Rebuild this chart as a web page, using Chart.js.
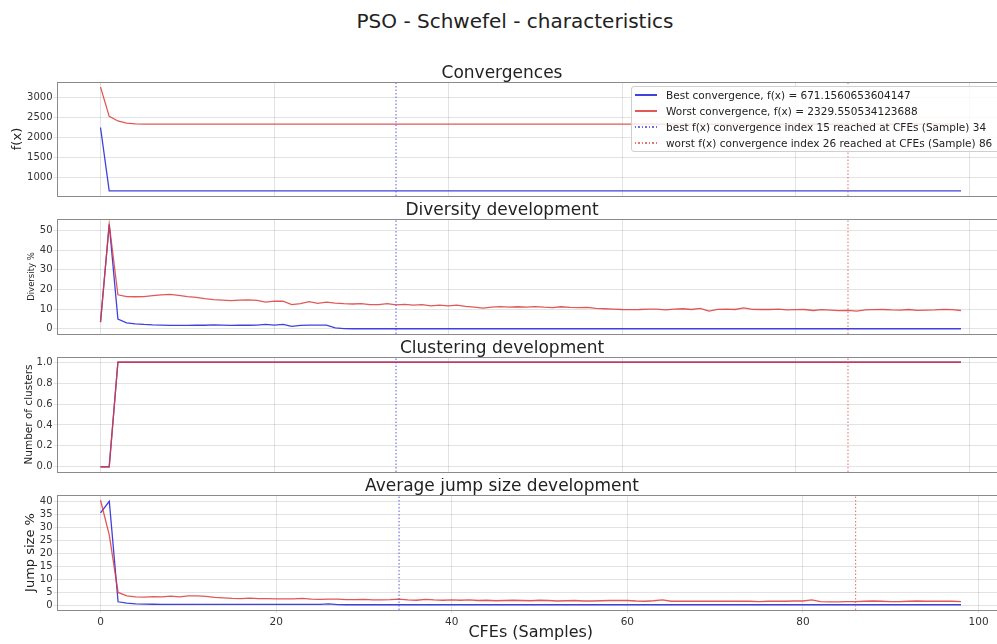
<!DOCTYPE html>
<html>
<head>
<meta charset="utf-8">
<title>PSO - Schwefel - characteristics</title>
<script src="https://cdn.jsdelivr.net/npm/chart.js@4.4.1/dist/chart.umd.min.js"></script>
<style>
  html, body { margin: 0; padding: 0; background: #fff; }
  body { position: relative; width: 997px; height: 644px; overflow: hidden; font-family: 'DejaVu Sans', sans-serif; }
  canvas { position: absolute; left: 0; }
  #suptitle { position: absolute; left: 0; top: 8px; width: 1030px; text-align: center; font-size: 20px; line-height: 26px; color: #222; }
  #legend { position: absolute; left: 631px; top: 86px; width: 380px; height: 66px; box-sizing: border-box;
            border: 1px solid #cfcfcf; border-radius: 3px; background: rgba(255,255,255,0.8); font-size: 10.5px; color: #222; }
  #legend .row { display: flex; align-items: center; height: 16px; white-space: nowrap; }
  #legend .swatch { flex: none; width: 22px; height: 1.5px; margin: 0 9px 0 3px; }
</style>
</head>
<body>
<div id="suptitle">PSO - Schwefel - characteristics</div>
<canvas id="conv" width="1010" height="139" style="top:65px"></canvas>
<canvas id="div" width="1010" height="140" style="top:202px"></canvas>
<canvas id="clus" width="1010" height="140" style="top:340px"></canvas>
<canvas id="jump" width="1010" height="168" style="top:478px"></canvas>
<div id="legend"></div>
<script>
// final f(x) values and the samples where each run converged
const BEST_FX = 671.1560653604147;
const WORST_FX = 2329.550534123688;
const B = BEST_FX, W = WORST_FX;
const bestIndex = 15, bestSample = 34;
const worstIndex = 26, worstSample = 86;

// x positions (CFEs samples)
const samples = Array.from({ length: 100 }, (_, i) => i);
const jumpSamples = Array.from({ length: 99 }, (_, i) => i);
const xTickValues = [0, 20, 40, 60, 80, 100];

const bestConvergence = [
  2246, B, B, B, B, B, B, B, B, B,
  B, B, B, B, B, B, B, B, B, B,
  B, B, B, B, B, B, B, B, B, B,
  B, B, B, B, B, B, B, B, B, B,
  B, B, B, B, B, B, B, B, B, B,
  B, B, B, B, B, B, B, B, B, B,
  B, B, B, B, B, B, B, B, B, B,
  B, B, B, B, B, B, B, B, B, B,
  B, B, B, B, B, B, B, B, B, B,
  B, B, B, B, B, B, B, B, B, B
];
const worstConvergence = [
  3250, 2524, 2409, 2355, 2335, W, W, W, W, W,
  W, W, W, W, W, W, W, W, W, W,
  W, W, W, W, W, W, W, W, W, W,
  W, W, W, W, W, W, W, W, W, W,
  W, W, W, W, W, W, W, W, W, W,
  W, W, W, W, W, W, W, W, W, W,
  W, W, W, W, W, W, W, W, W, W,
  W, W, W, W, W, W, W, W, W, W,
  W, W, W, W, W, W, W, W, W, W,
  W, W, W, W, W, W, W, W, W, W
];

const bestDiversity = [
  3.4, 53.2, 4.9, 3.0, 2.5, 2.2, 2.0, 1.9, 1.7, 1.7,
  1.7, 1.8, 1.8, 2.0, 1.9, 1.7, 1.8, 1.8, 1.9, 2.2,
  1.9, 2.2, 1.2, 1.7, 1.9, 1.9, 1.9, 0.5, 0.1, 0.0,
  0.0, 0.0, 0.0, 0.0, 0.0, 0.0, 0.0, 0.0, 0.0, 0.0,
  0.0, 0.0, 0.0, 0.0, 0.0, 0.0, 0.0, 0.0, 0.0, 0.0,
  0.0, 0.0, 0.0, 0.0, 0.0, 0.0, 0.0, 0.0, 0.0, 0.0,
  0.0, 0.0, 0.0, 0.0, 0.0, 0.0, 0.0, 0.0, 0.0, 0.0,
  0.0, 0.0, 0.0, 0.0, 0.0, 0.0, 0.0, 0.0, 0.0, 0.0,
  0.0, 0.0, 0.0, 0.0, 0.0, 0.0, 0.0, 0.0, 0.0, 0.0,
  0.0, 0.0, 0.0, 0.0, 0.0, 0.0, 0.0, 0.0, 0.0, 0.0
];
const worstDiversity = [
  3.4, 53.2, 17.3, 16.4, 16.3, 16.4, 16.9, 17.3, 17.5, 17.0,
  16.4, 16.0, 15.3, 14.8, 14.6, 14.3, 14.6, 14.7, 14.5, 13.6,
  14.1, 14.0, 12.3, 12.8, 13.8, 12.9, 13.6, 13.1, 12.8, 12.6,
  12.8, 12.3, 12.3, 12.8, 12.2, 12.4, 12.0, 12.3, 11.7, 12.0,
  11.7, 12.0, 11.4, 11.0, 10.5, 11.0, 11.3, 11.0, 11.2, 11.0,
  11.3, 11.0, 10.8, 11.2, 10.9, 10.8, 10.9, 10.4, 10.2, 10.0,
  9.8, 9.7, 9.8, 10.0, 10.0, 9.6, 10.0, 10.2, 9.8, 10.4,
  9.0, 9.9, 10.0, 9.8, 10.6, 9.9, 9.8, 9.8, 10.0, 9.6,
  9.7, 9.8, 9.3, 9.7, 9.5, 9.2, 9.4, 9.0, 9.6, 9.7,
  9.8, 9.6, 9.5, 9.8, 9.4, 9.5, 9.6, 9.9, 9.7, 9.3
];

const bestClusters = [
  0, 0, 1, 1, 1, 1, 1, 1, 1, 1,
  1, 1, 1, 1, 1, 1, 1, 1, 1, 1,
  1, 1, 1, 1, 1, 1, 1, 1, 1, 1,
  1, 1, 1, 1, 1, 1, 1, 1, 1, 1,
  1, 1, 1, 1, 1, 1, 1, 1, 1, 1,
  1, 1, 1, 1, 1, 1, 1, 1, 1, 1,
  1, 1, 1, 1, 1, 1, 1, 1, 1, 1,
  1, 1, 1, 1, 1, 1, 1, 1, 1, 1,
  1, 1, 1, 1, 1, 1, 1, 1, 1, 1,
  1, 1, 1, 1, 1, 1, 1, 1, 1, 1
];
const worstClusters = [
  0, 0, 1, 1, 1, 1, 1, 1, 1, 1,
  1, 1, 1, 1, 1, 1, 1, 1, 1, 1,
  1, 1, 1, 1, 1, 1, 1, 1, 1, 1,
  1, 1, 1, 1, 1, 1, 1, 1, 1, 1,
  1, 1, 1, 1, 1, 1, 1, 1, 1, 1,
  1, 1, 1, 1, 1, 1, 1, 1, 1, 1,
  1, 1, 1, 1, 1, 1, 1, 1, 1, 1,
  1, 1, 1, 1, 1, 1, 1, 1, 1, 1,
  1, 1, 1, 1, 1, 1, 1, 1, 1, 1,
  1, 1, 1, 1, 1, 1, 1, 1, 1, 1
];

const bestJump = [
  35.5, 40.0, 1.3, 0.8, 0.5, 0.4, 0.35, 0.3, 0.3, 0.3,
  0.3, 0.3, 0.3, 0.3, 0.3, 0.3, 0.3, 0.3, 0.3, 0.3,
  0.3, 0.3, 0.3, 0.3, 0.3, 0.3, 0.5, 0.2, 0.15, 0.15,
  0.15, 0.15, 0.15, 0.15, 0.15, 0.15, 0.15, 0.15, 0.15, 0.15,
  0.15, 0.15, 0.15, 0.15, 0.15, 0.15, 0.15, 0.15, 0.15, 0.15,
  0.15, 0.15, 0.15, 0.15, 0.15, 0.15, 0.15, 0.15, 0.15, 0.15,
  0.15, 0.15, 0.15, 0.15, 0.15, 0.15, 0.15, 0.15, 0.15, 0.15,
  0.15, 0.15, 0.15, 0.15, 0.15, 0.15, 0.15, 0.15, 0.15, 0.15,
  0.15, 0.15, 0.15, 0.15, 0.15, 0.15, 0.15, 0.15, 0.15, 0.15,
  0.15, 0.15, 0.15, 0.15, 0.15, 0.15, 0.15, 0.15, 0.15
];
const worstJump = [
  40.4, 27.0, 4.9, 3.6, 3.2, 3.1, 3.3, 3.2, 3.5, 3.2,
  3.6, 3.6, 3.4, 3.0, 2.8, 2.6, 2.5, 2.7, 2.5, 2.5,
  2.4, 2.4, 2.4, 2.6, 2.3, 2.2, 2.3, 2.3, 2.1, 2.1,
  2.2, 2.0, 2.0, 2.1, 2.3, 2.0, 1.9, 2.2, 2.0, 1.9,
  2.0, 1.9, 2.0, 1.8, 1.9, 1.7, 1.8, 1.9, 1.8, 1.7,
  1.9, 1.8, 1.6, 1.7, 1.8, 1.6, 1.6, 1.7, 1.8, 1.8,
  1.8, 1.6, 1.5, 1.7, 2.0, 1.5, 1.5, 1.5, 1.5, 1.5,
  1.5, 1.5, 1.5, 1.5, 1.5, 1.4, 1.5, 1.5, 1.5, 1.6,
  1.6, 2.0, 1.4, 1.3, 1.3, 1.4, 1.4, 1.5, 1.6, 1.5,
  1.4, 1.4, 1.5, 1.6, 1.5, 1.5, 1.5, 1.5, 1.4
];

const BLUE = 'rgb(64, 64, 222)';
const RED = 'rgba(222, 58, 58, 0.85)';
const BLUE_DOT = 'rgba(80, 80, 228, 0.85)';
const RED_DOT = 'rgba(228, 80, 80, 0.8)';
const GRID = 'rgba(0, 0, 0, 0.11)';

Chart.defaults.font.family = "'DejaVu Sans', sans-serif";
Chart.defaults.color = '#333';

// matplotlib-style limits: 5% margin on each side of the data
function margins(lo, hi) {
  const m = (hi - lo) * 0.05;
  return [lo - m, hi + m];
}

function points(xs, ys) {
  return ys.map((v, i) => ({ x: xs[i], y: v }));
}

// box around the plotting area
const frame = {
  id: 'frame',
  afterDatasetsDraw(chart) {
    const { ctx, chartArea: a } = chart;
    const l = Math.floor(a.left) + 0.5, t = Math.floor(a.top) + 0.5;
    const r = Math.floor(a.right) + 0.5, b = Math.floor(a.bottom) + 0.5;
    ctx.save();
    ctx.strokeStyle = '#8a8a8a';
    ctx.lineWidth = 1;
    ctx.strokeRect(l, t, r - l, b - t);
    ctx.restore();
  }
};

function panel(id, p) {
  const xs = p.xs;
  const [xMin, xMax] = margins(xs[0], xs[xs.length - 1]);
  const [yMin, yMax] = p.yRange;
  const datasets = [
    { label: p.bestLabel, data: points(xs, p.best), borderColor: BLUE, order: 2 },
    { label: p.worstLabel, data: points(xs, p.worst), borderColor: RED, order: 1 },
    { label: `best f(x) convergence index ${bestIndex} reached at CFEs (Sample) ${bestSample}`,
      data: [{ x: bestSample, y: yMin }, { x: bestSample, y: yMax }],
      borderColor: BLUE_DOT, borderDash: [1.5, 2], borderWidth: 1.1, order: 0 },
    { label: `worst f(x) convergence index ${worstIndex} reached at CFEs (Sample) ${worstSample}`,
      data: [{ x: worstSample, y: yMin }, { x: worstSample, y: yMax }],
      borderColor: RED_DOT, borderDash: [1.5, 2], borderWidth: 1.1, order: 0 }
  ];
  return new Chart(document.getElementById(id), {
    type: 'line',
    data: { datasets },
    options: {
      responsive: false,
      animation: false,
      layout: { padding: { left: 0, right: 6, top: 0, bottom: 0 } },
      elements: {
        point: { radius: 0 },
        line: { tension: 0, borderWidth: 1.3, fill: false }
      },
      plugins: {
        legend: { display: false },
        tooltip: { enabled: false },
        title: {
          display: true, text: p.title, color: '#222',
          font: { size: 17, weight: 'normal', lineHeight: 1 }, padding: 0
        }
      },
      scales: {
        x: {
          type: 'linear', min: xMin, max: xMax,
          afterBuildTicks: s => { s.ticks = xTickValues.map(v => ({ value: v })); },
          afterFit: s => { s.height = p.xAxisHeight; },
          grid: { color: GRID, drawTicks: p.showX, tickLength: 3 },
          border: { display: false },
          ticks: { display: p.showX, autoSkip: false, font: { size: 10.5 }, padding: 3, maxRotation: 0, callback: v => String(v) },
          title: {
            display: p.showX, text: 'CFEs (Samples)', color: '#222',
            font: { size: 16, lineHeight: 1.2 }, padding: { top: 0, bottom: 3.4 }
          }
        },
        y: {
          min: yMin, max: yMax,
          afterBuildTicks: s => { s.ticks = p.yTicks.map(v => ({ value: v })); },
          afterFit: s => { s.width = 57.5; },
          grid: { color: GRID, tickLength: 4 },
          border: { display: false },
          ticks: { autoSkip: false, font: { size: p.tickSize || 10 }, padding: 1, callback: p.yFormat || (v => String(v)) },
          title: {
            display: true, text: p.yTitle, color: '#222',
            font: { size: p.yTitleSize, lineHeight: 1.2 }, padding: { top: p.yTitlePad, bottom: 0 }
          }
        }
      }
    },
    plugins: [frame]
  });
}

const convChart = panel('conv', {
  title: 'Convergences', xs: samples,
  best: bestConvergence, worst: worstConvergence,
  bestLabel: `Best convergence, f(x) = ${BEST_FX}`,
  worstLabel: `Worst convergence, f(x) = ${WORST_FX}`,
  yRange: margins(Math.min(...bestConvergence), Math.max(...worstConvergence)),
  yTicks: [1000, 1500, 2000, 2500, 3000],
  yTitle: 'f(x)', yTitleSize: 13, yTitlePad: 9.7,
  showX: false, xAxisHeight: 8
});

panel('div', {
  title: 'Diversity development', xs: samples,
  best: bestDiversity, worst: worstDiversity,
  bestLabel: 'Best diversity', worstLabel: 'Worst diversity',
  yRange: margins(0, Math.max(...bestDiversity, ...worstDiversity)),
  yTicks: [0, 10, 20, 30, 40, 50],
  yTitle: 'Diversity %', yTitleSize: 8.5, yTitlePad: 26.6,
  showX: false, xAxisHeight: 8
});

panel('clus', {
  title: 'Clustering development', xs: samples,
  best: bestClusters, worst: worstClusters,
  bestLabel: 'Best clusters', worstLabel: 'Worst clusters',
  yRange: margins(0, 1),
  yTicks: [0, 0.2, 0.4, 0.6, 0.8, 1.0],
  yFormat: v => v.toFixed(1), tickSize: 10,
  yTitle: 'Number of clusters', yTitleSize: 10.5, yTitlePad: 22.9,
  showX: false, xAxisHeight: 8
});

panel('jump', {
  title: 'Average jump size development', xs: jumpSamples,
  best: bestJump, worst: worstJump,
  bestLabel: 'Best jump size', worstLabel: 'Worst jump size',
  yRange: margins(Math.min(...bestJump), Math.max(...worstJump)),
  yTicks: [0, 5, 10, 15, 20, 25, 30, 35, 40],
  yTitle: 'Jump size %', yTitleSize: 13, yTitlePad: 22.9,
  showX: true, xAxisHeight: 36
});

// legend of the convergence panel, built from its datasets
const legend = document.getElementById('legend');
convChart.data.datasets.forEach(ds => {
  const row = document.createElement('div');
  row.className = 'row';
  const sw = document.createElement('span');
  sw.className = 'swatch';
  sw.style.background = ds.borderDash
    ? `repeating-linear-gradient(to right, ${ds.borderColor} 0 1.5px, transparent 1.5px 3.5px)`
    : ds.borderColor;
  const txt = document.createElement('span');
  txt.textContent = ds.label;
  row.appendChild(sw);
  row.appendChild(txt);
  legend.appendChild(row);
});
</script>
</body>
</html>
